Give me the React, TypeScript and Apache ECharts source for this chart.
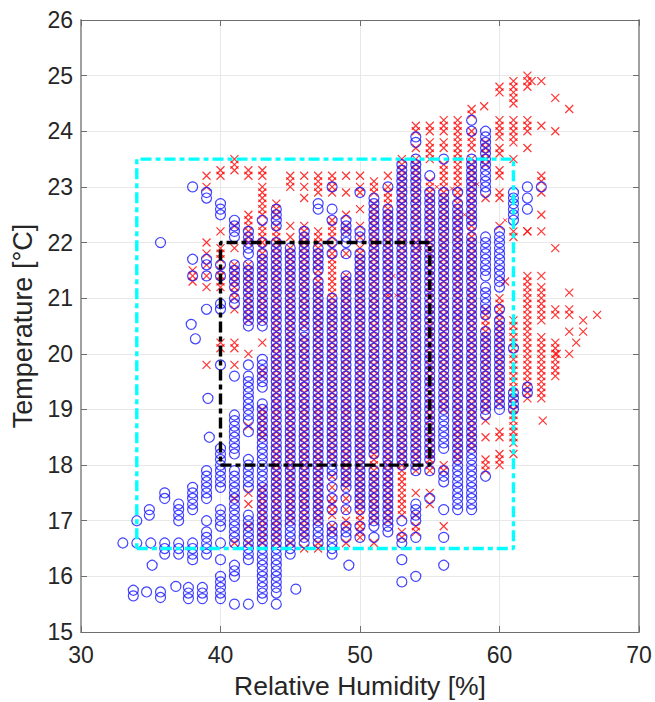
import React, { useEffect, useRef } from "react";
import * as echarts from "echarts";

const xTicks = [30, 40, 50, 60, 70];
const yTicks = [15, 16, 17, 18, 19, 20, 21, 22, 23, 24, 25, 26];
const xTitle = "Relative Humidity [%]";
const yTitle = "Temperature [°C]";

const cyanBox = [[34, 16.5], [61, 16.5], [61, 23.5], [34, 23.5], [34, 16.5]];
const blackBox = [[40, 18], [55, 18], [55, 22], [40, 22], [40, 18]];

const blueLoose = [[33.75, 15.75], [33.75, 15.65], [34.7, 15.72], [34.9, 17.2], [34.9, 17.1], [35.1, 16.2], [35.7, 22.0], [35.7, 15.72], [35.7, 15.62], [36.8, 15.82], [37.7, 15.8], [37.7, 15.7], [37.7, 15.6], [37.9, 20.53], [38.2, 20.27], [38.7, 15.8], [38.7, 15.7], [38.7, 15.6], [39.1, 19.2], [39.2, 18.5], [45.4, 15.77], [49.2, 16.2]];
const b33 = [16.6];
const b34 = [17.0, 16.6];
const b35 = [16.6];
const b36 = [17.5, 17.4, 16.6, 16.5, 16.4];
const b37 = [17.3, 17.2, 17.1, 17.0, 16.6, 16.5, 16.4];
const b38 = [23.0, 21.7, 21.4, 17.6, 17.5, 17.4, 17.3, 17.2, 16.6, 16.5, 16.4, 16.3];
const b39 = [22.9, 22.8, 21.7, 21.6, 21.4, 20.8, 17.9, 17.8, 17.7, 17.6, 17.5, 17.4, 17.0, 16.8, 16.7, 16.6, 16.5, 16.4];
const b40 = [22.7, 22.6, 22.5, 21.6, 21.4, 20.9, 20.8, 19.8, 18.3, 18.2, 18.1, 18.0, 17.9, 17.8, 17.7, 17.6, 17.2, 17.1, 17.0, 16.9, 16.6, 16.3, 16.0, 15.9, 15.8, 15.7, 15.6];
const b41 = [22.4, 22.3, 22.2, 22.1, 21.6, 21.5, 21.4, 21.3, 21.2, 21.0, 20.9, 19.6, 18.9, 18.8, 18.7, 18.6, 18.5, 18.4, 18.3, 18.2, 17.9, 17.8, 17.7, 17.6, 17.5, 17.4, 17.3, 17.2, 17.1, 17.0, 16.9, 16.8, 16.7, 16.6, 16.2, 16.1, 16.0, 15.5];
const b42 = [22.2, 22.1, 22.0, 21.9, 21.8, 21.6, 21.5, 21.4, 21.3, 21.2, 21.1, 21.0, 20.9, 20.8, 20.7, 20.6, 20.5, 19.8, 19.6, 19.5, 19.4, 19.3, 19.2, 19.1, 19.0, 18.9, 18.8, 18.6, 18.1, 18.0, 17.9, 17.8, 17.7, 17.6, 17.1, 17.0, 16.9, 16.8, 16.7, 16.6, 16.5, 16.4, 16.3, 15.5];
const b43 = [22.4, 22.0, 21.8, 21.7, 21.6, 21.5, 21.4, 21.3, 21.2, 21.1, 21.0, 20.9, 20.8, 20.7, 20.6, 20.5, 19.9, 19.8, 19.7, 19.6, 19.5, 19.4, 19.1, 19.0, 18.9, 18.8, 18.7, 18.6, 18.5, 18.4, 18.3, 18.2, 18.1, 18.0, 17.9, 17.8, 17.7, 17.6, 17.5, 17.4, 17.3, 17.2, 17.1, 17.0, 16.9, 16.8, 16.7, 16.6, 16.5, 16.4, 16.3, 16.2, 16.1, 16.0, 15.9, 15.8, 15.7, 15.6];
const b44 = [22.6, 22.5, 22.4, 22.3, 22.0, 21.9, 21.8, 21.7, 21.6, 21.5, 21.4, 21.3, 21.2, 21.1, 21.0, 20.9, 20.8, 20.7, 20.6, 20.5, 20.4, 20.3, 20.2, 20.1, 20.0, 19.9, 19.8, 19.7, 19.6, 19.5, 19.4, 19.3, 19.2, 19.1, 19.0, 18.9, 18.8, 18.7, 18.6, 18.5, 18.4, 18.3, 18.2, 18.1, 18.0, 17.9, 17.8, 17.7, 17.6, 17.5, 17.4, 17.3, 17.2, 17.1, 17.0, 16.9, 16.8, 16.7, 16.6, 16.5, 16.4, 16.3, 16.2, 16.1, 16.0, 15.9, 15.8, 15.7, 15.5];
const b45 = [21.9, 21.8, 21.7, 21.6, 21.5, 21.4, 21.3, 21.2, 21.1, 21.0, 20.9, 20.8, 20.7, 20.6, 20.5, 20.4, 20.3, 20.2, 20.1, 20.0, 19.9, 19.8, 19.7, 19.6, 19.5, 19.4, 19.3, 19.2, 19.1, 19.0, 18.9, 18.8, 18.7, 18.6, 18.5, 18.4, 18.3, 18.2, 18.1, 18.0, 17.9, 17.8, 17.7, 17.6, 17.5, 17.4, 17.3, 17.2, 17.1, 17.0, 16.9, 16.8, 16.7, 16.6, 16.5, 16.4];
const b46 = [22.2, 22.1, 22.0, 21.9, 21.8, 21.7, 21.6, 21.5, 21.4, 21.3, 21.2, 21.1, 21.0, 20.9, 20.8, 20.7, 20.6, 20.5, 20.4, 20.3, 20.2, 20.1, 20.0, 19.9, 19.8, 19.7, 19.6, 19.5, 19.4, 19.3, 19.2, 19.1, 19.0, 18.9, 18.8, 18.7, 18.6, 18.5, 18.4, 18.3, 18.2, 18.1, 18.0, 17.9, 17.8, 17.7, 17.6, 17.5, 17.4, 17.3, 17.2, 17.1, 17.0, 16.9, 16.8, 16.7, 16.6];
const b47 = [22.7, 22.6, 21.9, 21.8, 21.7, 21.6, 21.5, 21.3, 21.2, 21.1, 21.0, 20.9, 20.8, 20.7, 20.6, 20.5, 20.4, 20.3, 20.2, 20.1, 20.0, 19.9, 19.8, 19.7, 19.6, 19.5, 19.4, 19.3, 19.2, 19.1, 19.0, 18.9, 18.8, 18.7, 18.6, 18.5, 18.4, 18.3, 18.2, 18.1, 18.0, 17.9, 17.8, 17.7, 17.6, 17.5, 17.4, 17.3, 17.2, 17.1, 17.0, 16.9, 16.8, 16.7, 16.6];
const b48 = [23.0, 22.6, 22.4, 22.0, 21.8, 21.0, 20.9, 20.8, 20.7, 20.6, 20.5, 20.4, 20.3, 20.2, 20.1, 20.0, 19.9, 19.8, 19.7, 19.6, 19.5, 19.4, 19.3, 19.2, 19.1, 19.0, 18.9, 18.8, 18.7, 18.6, 18.5, 18.4, 18.3, 18.2, 18.1, 18.0, 17.9, 17.8, 17.6, 17.4, 17.2, 16.9, 16.8, 16.7, 16.6, 16.5, 16.4];
const b49 = [22.4, 22.3, 22.2, 22.1, 22.0, 21.8, 21.4, 21.3, 21.2, 21.1, 21.0, 20.9, 20.8, 20.7, 20.6, 20.5, 20.4, 20.3, 20.2, 20.1, 20.0, 19.9, 19.8, 19.7, 19.6, 19.5, 19.4, 19.3, 19.2, 19.1, 19.0, 18.9, 18.8, 18.7, 18.6, 18.5, 18.4, 18.3, 18.2, 18.1, 18.0, 17.9, 17.8, 17.7, 17.6, 17.4, 17.2, 16.9, 16.8, 16.7];
const b50 = [22.9, 22.2, 22.1, 21.8, 21.7, 21.6, 21.5, 21.4, 21.3, 21.2, 21.1, 21.0, 20.9, 20.8, 20.7, 20.6, 20.5, 20.4, 20.3, 20.2, 20.1, 20.0, 19.9, 19.8, 19.7, 19.6, 19.5, 19.4, 19.3, 19.2, 19.1, 19.0, 18.9, 18.8, 18.7, 18.6, 18.5, 18.4, 18.3, 18.2, 18.1, 18.0, 17.9, 17.8, 17.7, 17.6, 17.5, 17.4, 17.3, 17.2, 16.9, 16.7];
const b51 = [22.8, 22.7, 22.6, 22.5, 22.4, 22.3, 22.2, 22.1, 22.0, 21.9, 21.8, 21.7, 21.6, 21.5, 21.4, 21.3, 21.2, 21.1, 21.0, 20.9, 20.8, 20.7, 20.6, 20.5, 20.4, 20.3, 20.2, 20.1, 20.0, 19.9, 19.8, 19.7, 19.6, 19.5, 19.4, 19.3, 19.2, 19.1, 19.0, 18.9, 18.8, 18.7, 18.6, 18.5, 18.4, 18.3, 18.2, 17.9, 17.8, 17.7, 17.6, 17.5, 17.4, 17.3, 17.2, 17.1, 17.0, 16.9, 16.7];
const b52 = [23.0, 22.6, 22.5, 22.4, 22.3, 22.2, 22.1, 22.0, 21.9, 21.8, 21.7, 21.6, 21.5, 21.4, 21.3, 21.2, 21.1, 21.0, 20.9, 20.8, 20.7, 20.6, 20.5, 20.4, 20.3, 20.2, 20.1, 20.0, 19.9, 19.8, 19.7, 19.6, 19.5, 19.4, 19.3, 19.2, 19.1, 19.0, 18.9, 18.8, 18.7, 18.6, 18.5, 18.4, 18.3, 18.2, 18.1, 18.0, 17.9, 17.8, 17.7, 17.6, 17.5, 17.4, 17.3, 17.2, 17.1, 17.0, 16.9, 16.8];
const b53 = [23.4, 23.3, 23.2, 23.1, 23.0, 22.9, 22.8, 22.7, 22.6, 22.5, 22.4, 22.3, 22.2, 22.1, 22.0, 21.9, 21.8, 21.7, 21.6, 21.5, 21.4, 21.3, 21.2, 21.1, 21.0, 20.9, 20.8, 20.7, 20.6, 20.5, 20.4, 20.3, 20.2, 20.1, 20.0, 19.9, 19.8, 19.7, 19.6, 19.5, 19.4, 19.3, 19.2, 19.1, 19.0, 18.9, 18.8, 18.7, 18.6, 18.5, 18.4, 18.3, 18.2, 18.1, 18.0, 17.0, 16.7, 16.6, 16.3, 15.9];
const b54 = [23.9, 23.8, 23.5, 23.4, 23.3, 23.2, 23.1, 23.0, 22.9, 22.8, 22.7, 22.6, 22.5, 22.4, 22.3, 22.2, 22.1, 22.0, 21.9, 21.8, 21.7, 21.6, 21.5, 21.4, 21.3, 21.2, 21.1, 21.0, 20.9, 20.8, 20.7, 20.6, 20.5, 20.4, 20.3, 20.2, 20.1, 20.0, 19.9, 19.8, 19.7, 19.6, 19.5, 19.4, 19.3, 19.2, 19.1, 19.0, 18.9, 18.8, 18.7, 18.6, 18.5, 18.4, 18.3, 18.2, 18.1, 18.0, 17.9, 17.3, 17.2, 17.1, 17.0, 16.7, 16.0];
const b55 = [23.2, 22.9, 22.8, 22.7, 22.6, 22.5, 22.4, 22.3, 22.2, 22.1, 22.0, 21.9, 21.8, 21.7, 21.6, 21.5, 21.4, 21.3, 21.2, 21.1, 21.0, 20.9, 20.8, 20.7, 20.6, 20.5, 20.4, 20.3, 20.2, 20.1, 20.0, 19.9, 19.8, 19.7, 19.6, 19.5, 19.4, 19.3, 19.2, 19.1, 19.0, 18.9, 18.8, 18.7, 18.6, 18.5, 18.4, 18.3, 18.2, 18.1, 17.9, 17.4];
const b56 = [23.5, 22.9, 22.8, 22.7, 22.6, 22.5, 22.4, 22.3, 22.2, 22.1, 22.0, 21.9, 21.8, 21.7, 21.6, 21.5, 21.4, 21.3, 21.2, 21.1, 21.0, 20.9, 20.8, 20.7, 20.6, 20.5, 20.4, 20.3, 20.2, 20.1, 20.0, 19.9, 19.8, 19.7, 19.6, 19.5, 19.4, 19.3, 19.2, 19.1, 19.0, 18.9, 18.8, 18.7, 18.6, 18.5, 18.4, 18.3, 17.9, 17.8, 17.7, 17.2, 16.7, 16.2];
const b57 = [22.9, 22.7, 22.6, 22.5, 22.4, 22.3, 22.2, 22.1, 22.0, 21.9, 21.8, 21.7, 21.6, 21.5, 21.4, 21.3, 21.2, 21.1, 21.0, 20.9, 20.8, 20.7, 20.6, 20.5, 20.4, 20.3, 20.2, 20.1, 20.0, 19.9, 19.8, 19.7, 19.6, 19.5, 19.4, 19.3, 19.2, 19.1, 19.0, 18.9, 18.8, 18.7, 18.6, 18.5, 18.4, 18.3, 18.2, 18.1, 18.0, 17.9, 17.8, 17.7, 17.6, 17.5, 17.4, 17.3, 17.2];
const b58 = [24.2, 24.0, 23.5, 23.4, 23.3, 23.2, 23.1, 23.0, 22.9, 22.8, 22.7, 22.6, 22.5, 22.4, 22.3, 22.1, 22.0, 21.9, 21.8, 21.7, 21.6, 21.5, 21.4, 21.3, 21.2, 21.1, 21.0, 20.9, 20.8, 20.7, 20.6, 20.5, 20.4, 20.3, 20.2, 20.1, 20.0, 19.9, 19.8, 19.7, 19.6, 19.5, 19.4, 19.3, 19.2, 19.1, 19.0, 18.9, 18.8, 18.7, 18.6, 18.5, 18.4, 18.3, 18.2, 18.1, 18.0, 17.9, 17.8, 17.7, 17.6, 17.5, 17.4, 17.3, 17.2];
const b59 = [24.0, 23.9, 23.8, 23.7, 23.6, 23.5, 23.4, 23.3, 23.2, 23.1, 23.0, 22.9, 22.1, 22.0, 21.9, 21.8, 21.7, 21.6, 21.5, 21.4, 21.2, 21.1, 21.0, 20.9, 20.8, 20.7, 20.4, 20.3, 20.2, 20.1, 20.0, 19.9, 19.8, 19.7, 19.6, 19.5, 19.4, 19.3, 19.2, 19.1, 19.0, 18.9, 17.8];
const b60 = [22.2, 22.1, 22.0, 21.9, 21.8, 21.7, 21.6, 21.5, 21.4, 21.3, 21.2, 20.8, 20.6, 20.5, 20.4, 20.3, 20.2, 20.1, 20.0, 19.9, 19.8, 19.7, 19.6, 19.5, 19.4, 19.3, 19.2, 19.1, 19.0];
const b61 = [22.9, 22.8, 22.7, 22.6, 22.5, 22.4, 20.1, 19.3, 19.2, 19.1, 19.0];
const b62 = [23.0, 22.8, 22.6, 19.4, 19.3];
const b63 = [23.0];
const blueColumns = [[33, b33], [34, b34], [35, b35], [36, b36], [37, b37], [38, b38], [39, b39], [40, b40], [41, b41], [42, b42], [43, b43], [44, b44], [45, b45], [46, b46], [47, b47], [48, b48], [49, b49], [50, b50], [51, b51], [52, b52], [53, b53], [54, b54], [55, b55], [56, b56], [57, b57], [58, b58], [59, b59], [60, b60], [61, b61], [62, b62], [63, b63]] as [number, number[]][];

const redLoose = [[58.9, 24.45], [60.4, 21.3], [62.3, 24.9], [65.5, 20.2], [63.1, 18.8], [64.1, 20.0]];
const redSmall = [[55.5, 23.0], [56.6, 22.97], [57.5, 22.5], [58.4, 23.05], [60.4, 22.4], [52.4, 21.4], [52.0, 21.05], [52.6, 21.05], [54.3, 21.9]];
const r38 = [21.5, 21.4, 21.3];
const r39 = [23.2, 23.0, 22.0, 21.8, 21.6, 21.4, 21.2, 19.8];
const r40 = [23.3, 23.2, 22.2, 21.9, 21.8, 21.7, 21.5, 21.4, 21.3, 21.2, 20.2, 20.1];
const r41 = [23.5, 23.4, 23.3, 22.3, 21.9, 21.6, 21.5, 21.4, 21.3, 21.2, 21.1, 21.0, 20.8, 20.2, 20.1, 19.8, 17.4, 16.6];
const r42 = [23.3, 23.2, 22.5, 22.4, 22.3, 22.2, 22.1, 22.0, 21.6, 21.5, 21.4, 21.3, 21.2, 21.1, 21.0, 20.9, 20.8, 20.7, 20.6, 20.0, 18.7, 17.5, 17.3, 16.9, 16.6];
const r43 = [23.3, 23.2, 23.0, 22.9, 22.8, 22.7, 22.6, 22.5, 22.3, 22.2, 22.1, 22.0, 21.9, 21.8, 21.7, 21.6, 21.5, 21.4, 21.3, 21.2, 21.1, 21.0, 20.9, 20.8, 20.7, 20.6, 20.2, 19.7, 19.6, 19.0, 18.9, 18.8, 18.7, 18.6, 18.5, 17.6, 17.5, 17.4, 17.3, 17.2, 17.1, 17.0, 16.9, 16.8, 16.7, 16.6];
const r44 = [22.7, 22.6, 22.5, 22.3, 22.2, 22.1, 22.0, 21.9, 21.8, 21.7, 21.6, 21.5, 21.4, 21.3, 21.2, 21.1, 21.0, 20.9, 20.8, 20.7, 20.6, 20.5, 20.4, 20.3, 20.2, 20.1, 20.0, 19.9, 19.8, 19.7, 19.6, 19.5, 19.4, 19.3, 19.2, 19.1, 19.0, 18.9, 18.8, 18.7, 18.6, 18.5, 18.4, 18.3, 18.2, 18.1, 18.0, 17.9, 17.8, 17.7, 17.6, 17.5, 17.4, 17.3, 17.2, 17.1, 17.0, 16.9, 16.8, 16.7, 16.6];
const r45 = [23.2, 23.1, 23.0, 22.3, 22.1, 21.9, 21.8, 21.7, 21.6, 21.5, 21.4, 21.3, 21.2, 21.1, 21.0, 20.9, 20.8, 20.7, 20.6, 20.5, 20.4, 20.3, 20.2, 20.1, 20.0, 19.9, 19.8, 19.7, 19.6, 19.5, 19.4, 19.3, 19.2, 19.1, 19.0, 18.9, 18.8, 18.7, 18.6, 18.5, 18.4, 18.3, 18.2, 18.1, 18.0, 17.9, 17.8, 17.7, 17.6, 17.5, 17.4, 17.3, 17.2, 17.1, 17.0, 16.6];
const r46 = [23.2, 23.0, 22.8, 22.3, 22.2, 22.1, 22.0, 21.9, 21.8, 21.7, 21.6, 21.5, 21.4, 21.3, 21.2, 21.1, 21.0, 20.9, 20.8, 20.7, 20.6, 20.5, 20.3, 20.2, 20.1, 20.0, 19.9, 19.8, 19.7, 19.6, 19.5, 19.4, 19.3, 19.2, 19.1, 19.0, 18.9, 18.8, 18.7, 18.6, 18.5, 18.4, 18.3, 18.2, 18.1, 18.0, 17.9, 17.8, 17.7, 17.6, 17.5, 17.4, 17.3, 17.2, 17.1, 17.0, 16.9, 16.8, 16.7, 16.5];
const r47 = [23.2, 23.1, 23.0, 22.9, 22.2, 22.1, 22.0, 21.9, 21.8, 21.7, 21.6, 21.5, 21.4, 21.3, 21.2, 21.1, 21.0, 20.9, 20.8, 20.7, 20.6, 20.5, 20.4, 20.3, 20.2, 20.1, 20.0, 19.9, 19.8, 19.7, 19.6, 19.5, 19.4, 19.3, 19.2, 19.1, 19.0, 18.9, 18.8, 18.7, 18.6, 18.5, 18.4, 18.3, 18.2, 18.1, 18.0, 17.9, 17.8, 17.7, 17.6, 17.5, 17.4, 17.3, 17.2, 17.1, 17.0, 16.6, 16.5];
const r48 = [23.2, 23.1, 23.0, 22.9, 22.4, 22.3, 22.2, 22.1, 21.9, 21.8, 21.7, 21.6, 21.5, 21.4, 21.3, 21.2, 21.1, 21.0, 20.9, 20.8, 20.7, 20.6, 20.5, 20.4, 20.3, 20.2, 20.1, 20.0, 19.9, 19.8, 19.7, 19.6, 19.5, 19.4, 19.3, 19.2, 19.1, 19.0, 18.9, 18.8, 18.7, 18.6, 18.5, 18.4, 18.3, 18.2, 18.1, 17.8, 17.6, 17.4, 17.3, 17.2, 17.1, 16.9, 16.8];
const r49 = [23.2, 22.9, 22.5, 22.3, 22.2, 21.8, 21.4, 21.3, 21.2, 21.1, 21.0, 20.9, 20.8, 20.7, 20.6, 20.5, 20.4, 20.3, 20.2, 20.1, 20.0, 19.9, 19.8, 19.7, 19.6, 19.5, 19.4, 19.3, 19.2, 19.1, 19.0, 18.9, 18.8, 18.7, 18.6, 18.5, 18.4, 18.3, 18.2, 18.1, 18.0, 17.9, 17.8, 17.7, 17.6, 17.4, 17.2, 17.0, 16.9, 16.6];
const r50 = [23.2, 23.0, 22.9, 22.6, 22.3, 22.1, 21.9, 21.8, 21.7, 21.6, 21.5, 21.4, 21.3, 21.2, 21.1, 21.0, 20.9, 20.8, 20.7, 20.6, 20.5, 20.4, 20.3, 20.2, 20.1, 20.0, 19.9, 19.8, 19.7, 19.6, 19.5, 19.4, 19.3, 19.2, 19.1, 19.0, 18.9, 18.8, 18.7, 18.6, 18.5, 18.4, 18.3, 18.2, 18.1, 18.0, 17.9, 17.8, 17.7, 17.6, 17.5, 17.4, 17.3, 17.2, 17.1, 17.0, 16.9, 16.8, 16.7];
const r51 = [23.1, 23.0, 22.9, 22.7, 22.6, 22.5, 22.4, 22.3, 22.2, 22.1, 22.0, 21.9, 21.8, 21.7, 21.6, 21.5, 21.4, 21.3, 21.2, 21.1, 21.0, 20.9, 20.8, 20.7, 20.6, 20.5, 20.4, 20.3, 20.2, 20.1, 20.0, 19.9, 19.8, 19.7, 19.6, 19.5, 19.4, 19.3, 19.2, 19.1, 19.0, 18.9, 18.8, 18.7, 18.6, 18.5, 18.4, 18.3, 18.2, 18.1, 18.0, 17.9, 17.8, 17.7, 17.6, 17.5, 17.4, 17.3, 17.2, 17.1, 17.0, 16.6];
const r52 = [23.2, 23.0, 22.9, 22.8, 22.7, 22.6, 22.5, 22.4, 22.3, 22.2, 22.1, 22.0, 21.9, 21.8, 21.7, 21.6, 21.5, 21.4, 21.3, 21.2, 21.1, 21.0, 20.9, 20.8, 20.7, 20.6, 20.5, 20.4, 20.3, 20.2, 20.1, 20.0, 19.9, 19.8, 19.7, 19.6, 19.5, 19.4, 19.3, 19.2, 19.1, 19.0, 18.9, 18.8, 18.7, 18.6, 18.5, 18.4, 18.3, 18.2, 18.1, 18.0, 17.9, 17.8, 17.7, 17.6, 17.5, 17.4, 17.3, 17.2, 17.1, 17.0];
const r53 = [23.5, 23.4, 23.3, 23.2, 23.1, 23.0, 22.9, 22.8, 22.7, 22.6, 22.5, 22.4, 22.3, 22.2, 22.1, 22.0, 21.9, 21.8, 21.7, 21.6, 21.5, 21.4, 21.3, 21.2, 21.1, 21.0, 20.9, 20.8, 20.7, 20.6, 20.5, 20.4, 20.3, 20.2, 20.1, 20.0, 19.9, 19.8, 19.7, 19.6, 19.5, 19.4, 19.3, 19.2, 19.1, 19.0, 18.9, 18.8, 18.7, 18.6, 18.5, 18.4, 18.3, 18.2, 18.1, 18.0, 17.9, 17.8, 17.7, 17.6, 17.5, 17.4, 17.3, 17.2, 17.1, 16.8, 16.7];
const r54 = [24.1, 24.0, 23.7, 23.5, 23.4, 23.3, 23.2, 23.1, 23.0, 22.9, 22.8, 22.7, 22.6, 22.5, 22.4, 22.3, 22.2, 22.1, 22.0, 21.9, 21.8, 21.7, 21.6, 21.5, 21.4, 21.3, 21.2, 21.1, 21.0, 20.9, 20.8, 20.7, 20.6, 20.5, 20.4, 20.3, 20.2, 20.1, 20.0, 19.9, 19.8, 19.7, 19.6, 19.5, 19.4, 19.3, 19.2, 19.1, 19.0, 18.9, 18.8, 18.7, 18.6, 18.5, 18.4, 18.3, 18.2, 18.1, 17.9, 17.5, 17.1, 16.9, 16.8];
const r55 = [24.1, 24.0, 23.8, 23.7, 23.6, 23.5, 23.1, 23.0, 22.9, 22.8, 22.7, 22.6, 22.5, 22.4, 22.3, 22.2, 22.1, 22.0, 21.9, 21.8, 21.7, 21.6, 21.5, 21.4, 21.3, 21.2, 21.1, 21.0, 20.9, 20.8, 20.7, 20.6, 20.5, 20.4, 20.3, 20.2, 20.1, 20.0, 19.9, 19.8, 19.7, 19.6, 19.5, 19.4, 19.3, 19.2, 19.1, 19.0, 18.9, 18.8, 18.7, 18.6, 18.5, 18.4, 18.3, 18.2, 18.1, 18.0, 17.9, 17.5, 17.3];
const r56 = [24.2, 24.1, 24.0, 23.8, 23.7, 23.4, 23.3, 23.2, 23.1, 23.0, 22.9, 22.8, 22.7, 22.6, 22.5, 22.4, 22.3, 22.2, 22.1, 22.0, 21.9, 21.8, 21.7, 21.6, 21.5, 21.4, 21.3, 21.2, 21.1, 21.0, 20.9, 20.8, 20.7, 20.6, 20.5, 20.4, 20.3, 20.2, 20.1, 20.0, 19.9, 19.8, 19.7, 19.6, 19.5, 19.4, 19.3, 19.2, 19.1, 19.0, 18.0, 17.9, 16.9];
const r57 = [24.2, 24.1, 24.0, 23.9, 23.8, 23.7, 23.6, 23.5, 23.4, 23.3, 23.2, 23.1, 23.0, 22.9, 22.8, 22.7, 22.6, 22.5, 22.4, 22.3, 22.2, 22.1, 22.0, 21.9, 21.8, 21.7, 21.6, 21.5, 21.4, 21.3, 21.2, 21.1, 21.0, 20.9, 20.8, 20.7, 20.6, 20.5, 20.4, 20.3, 20.2, 20.1, 20.0, 19.9, 19.8, 19.7, 19.6, 19.5, 19.4, 19.3, 19.2, 19.1, 19.0, 18.9, 18.8, 18.7, 18.6, 18.5, 18.4, 18.3, 18.2, 18.1];
const r58 = [24.4, 24.3, 24.0, 23.9, 23.8, 23.7, 23.5, 23.4, 23.3, 23.2, 23.1, 23.0, 22.9, 22.8, 22.7, 22.6, 22.5, 22.4, 22.3, 22.2, 22.1, 22.0, 21.9, 21.8, 21.7, 21.6, 21.5, 21.4, 21.3, 21.2, 21.1, 21.0, 20.9, 20.8, 20.7, 20.6, 20.5, 20.4, 20.3, 20.2, 20.1, 20.0, 19.9, 19.8, 19.7, 19.6, 19.5, 19.4, 19.3, 19.2, 19.1, 19.0, 18.9, 18.8, 18.7, 18.6, 18.5, 18.4, 18.3];
const r59 = [23.8, 23.7, 23.6, 23.5, 23.4, 22.8, 20.8, 20.7, 20.6, 20.5, 20.4, 20.3, 20.2, 20.1, 20.0, 19.9, 19.8, 19.7, 19.6, 19.5, 19.4, 19.3, 19.2, 19.1, 19.0, 18.8, 18.5, 18.1, 18.0, 17.9];
const r60 = [24.8, 24.7, 24.2, 24.1, 24.0, 23.9, 23.7, 23.6, 23.3, 23.2, 22.9, 22.8, 22.3, 21.0, 20.9, 20.8, 20.7, 20.6, 20.5, 20.4, 20.3, 20.2, 20.1, 20.0, 19.9, 19.8, 19.7, 19.6, 19.5, 19.4, 19.3, 19.2, 19.1, 18.6, 18.5, 18.2, 18.1, 18.0];
const r61 = [24.9, 24.8, 24.7, 24.6, 24.5, 24.2, 24.1, 24.0, 23.9, 23.8, 23.5, 22.2, 22.1, 20.6, 20.5, 20.4, 20.3, 20.2, 20.1, 20.0, 19.9, 19.8, 19.7, 19.6, 19.5, 19.4, 19.3, 19.2, 19.1, 19.0, 18.9, 18.8, 18.7, 18.6, 18.5, 18.4, 18.2];
const r62 = [25.0, 24.9, 24.8, 24.2, 24.1, 24.0, 23.7, 22.2, 22.2, 21.4, 21.3, 21.2, 21.1, 21.0, 20.9, 20.8, 20.7, 20.6, 20.5, 20.4, 20.3, 20.2, 20.1, 20.0, 19.9, 19.8, 19.7, 19.6, 19.5, 19.4, 19.3, 19.2];
const r63 = [24.9, 24.1, 23.2, 23.1, 22.9, 22.5, 22.2, 21.4, 21.2, 21.1, 21.0, 20.9, 20.8, 20.7, 20.6, 20.3, 20.2, 20.1, 20.0, 19.9, 19.8, 19.7, 19.6, 19.5, 19.4, 19.3, 19.2];
const r64 = [24.6, 24.0, 21.9, 20.8, 20.7, 20.2, 20.1, 20.0, 19.9, 19.8, 19.7, 19.6];
const r65 = [24.4, 21.1, 20.8, 20.7, 20.4, 20.0];
const r66 = [20.6, 20.4];
const r67 = [20.7];
const redColumns = [[38, r38], [39, r39], [40, r40], [41, r41], [42, r42], [43, r43], [44, r44], [45, r45], [46, r46], [47, r47], [48, r48], [49, r49], [50, r50], [51, r51], [52, r52], [53, r53], [54, r54], [55, r55], [56, r56], [57, r57], [58, r58], [59, r59], [60, r60], [61, r61], [62, r62], [63, r63], [64, r64], [65, r65], [66, r66], [67, r67]] as [number, number[]][];

const toPoints = (columns: [number, number[]][]) =>
  columns.flatMap(([h, temps]) => temps.map((t) => [h, t]));

const CROSS = "path://M0,0L10,10M0,10L10,0";
const TEXT = "#262626";
const FRAME_SIDE = "#a0a0a0";
const FRAME_FLAT = "#6e6e6e";
const GRID = "#e8e8e8";
const FONT = "'Liberation Sans', Arial, sans-serif";

export default function App() {
  const ref = useRef<HTMLDivElement>(null);
  useEffect(() => {
    const chart = echarts.init(ref.current!, undefined, { renderer: "svg" });
    const flatAxis = {
      axisLine: { show: true, lineStyle: { color: FRAME_FLAT, width: 1 } },
      axisTick: { show: true, inside: true, length: 6, lineStyle: { color: FRAME_FLAT, width: 1 } },
    };
    const sideAxis = {
      axisLine: { show: true, lineStyle: { color: FRAME_SIDE, width: 2 } },
      axisTick: { show: true, inside: true, length: 6, lineStyle: { color: FRAME_FLAT, width: 1 } },
    };
    chart.setOption({
      animation: false,
      backgroundColor: "#fff",
      grid: { left: 81, right: 16, top: 20, bottom: 70, containLabel: false, outerBoundsMode: "none" },
      xAxis: [
        {
          ...flatAxis, type: "value", min: xTicks[0], max: xTicks[xTicks.length - 1], interval: 10,
          name: xTitle, nameLocation: "middle", nameGap: 40,
          nameTextStyle: { color: TEXT, fontSize: 26.5, fontFamily: FONT },
          axisLabel: { color: TEXT, fontSize: 23, fontFamily: FONT, margin: 11 },
          splitLine: { show: true, lineStyle: { color: GRID, width: 1 } },
        },
        {
          ...flatAxis, type: "value", position: "top", min: xTicks[0], max: xTicks[xTicks.length - 1], interval: 10,
          axisLabel: { show: false }, splitLine: { show: false },
        },
      ],
      yAxis: [
        {
          ...sideAxis, type: "value", min: yTicks[0], max: yTicks[yTicks.length - 1], interval: 1,
          name: yTitle, nameLocation: "middle", nameGap: 42,
          nameTextStyle: { color: TEXT, fontSize: 27, fontFamily: FONT },
          axisLabel: { color: TEXT, fontSize: 23, fontFamily: FONT, margin: 8 },
          splitLine: { show: true, lineStyle: { color: GRID, width: 1 } },
        },
        {
          ...sideAxis, type: "value", position: "right", min: yTicks[0], max: yTicks[yTicks.length - 1], interval: 1,
          axisLabel: { show: false }, splitLine: { show: false },
        },
      ],
      series: [
        {
          type: "scatter", z: 3, data: toPoints(redColumns).concat(redLoose), symbol: CROSS, symbolSize: 8,
          itemStyle: { color: "transparent", borderColor: "#ff0000", borderWidth: 1.2 },
        },
        {
          type: "scatter", z: 3, data: redSmall, symbol: CROSS, symbolSize: 4,
          itemStyle: { color: "transparent", borderColor: "#ff0000", borderWidth: 1 },
        },
        {
          type: "scatter", z: 4, data: toPoints(blueColumns).concat(blueLoose), symbol: "circle", symbolSize: 10,
          itemStyle: { color: "transparent", borderColor: "#1414ff", borderWidth: 1.2 },
        },
        {
          type: "line", z: 5, data: cyanBox, showSymbol: false, symbol: "none",
          lineStyle: { color: "#00ffff", width: 3.4, type: [11, 4, 5, 4] },
        },
        {
          type: "line", z: 6, data: blackBox, showSymbol: false, symbol: "none",
          lineStyle: { color: "#000", width: 3.4, type: [11, 4, 5, 4] },
        },
      ],
    });
    return () => chart.dispose();
  }, []);
  return <div ref={ref} style={{ position: "absolute", left: 0, top: 0, width: 655, height: 702 }} />;
}
